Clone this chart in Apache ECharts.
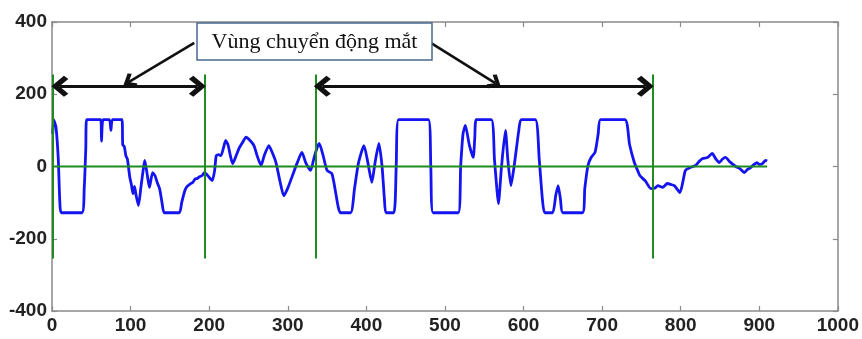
<!DOCTYPE html>
<html>
<head>
<meta charset="utf-8">
<script src="https://cdn.jsdelivr.net/npm/echarts@6/dist/echarts.min.js"></script>
<style>
html,body{margin:0;padding:0;background:#fff;}
#chart{width:862px;height:339px;}
</style>
</head>
<body>
<div id="chart"></div>
<script>
// ---- data ----
const xTicks = [0,100,200,300,400,500,600,700,800,900,1000];
const yTicks = [-400,-200,0,200,400];
const signalX = [1,2,5,8,10,12,38,41,43,44,62,63,65,73,75,77,89,90,92,94,96,99,101,103,105,107,110,113,116,118,121,124,128,131,134,137,140,143,162,165,169,172,176,179,182,185,188,191,194,197,200,204,207,209,212,215,218,221,224,227,230,234,238,242,247,252,257,261,266,270,276,280,285,290,295,300,306,312,318,323,329,333,337,340,345,350,356,360,364,367,380,385,390,397,402,407,411,416,420,423,425,435,438,441,479,482,485,517,520,523,526,531,536,538,540,559,563,566,568,572,577,580,584,588,594,597,615,620,624,627,637,641,644,647,650,675,678,682,686,691,695,698,729,735,741,745,748,755,762,767,771,777,783,788,792,799,803,806,812,819,824,828,834,840,845,849,853,857,863,870,875,881,885,889,893,897,900,904,908,910];
const signalY = [90,130,110,20,-100,-128,-128,-60,50,130,130,70,130,130,100,130,130,60,55,30,20,-30,-50,-75,-55,-80,-108,-60,-10,17,-20,-58,-17,-25,-45,-62,-100,-128,-128,-100,-67,-55,-48,-44,-35,-33,-28,-25,-17,-22,-30,-39,-10,30,33,30,50,72,60,30,8,28,50,65,81,72,58,30,3,30,58,40,11,-40,-81,-60,-25,10,39,10,-11,20,50,64,30,-11,-19,-60,-110,-128,-128,-60,10,58,10,-44,10,64,0,-90,-128,-128,0,130,130,0,-128,-128,0,90,114,60,25,80,130,130,20,-60,-103,0,100,20,-53,0,100,130,130,20,-90,-128,-128,-80,-53,-90,-128,-128,-60,3,25,39,90,130,130,60,11,-10,-25,-40,-61,-60,-53,-58,-47,-50,-53,-72,-40,-11,-3,3,15,22,25,36,20,11,20,25,12,0,-5,-17,-8,-3,5,11,6,8,17,15];
const zeroLineX = [0, 910];
const regionBounds = [1, 194, 335, 764];
const regionHalfHeight = 255;
const arrowY = 222;
const regions = [[1,194],[335,764]];
const annotationText = 'Vùng chuyển động mắt';
const pointerArrows = [[[181,342],[98,234]],[[482,342],[564,231]]];

const chevron = 'path://M10,0 L20,8.5 L17,11.5 L10,5.5 L3,11.5 L0,8.5 Z';
const arrowInset = 9;

const chart = echarts.init(document.getElementById('chart'), null, {renderer:'canvas'});
const labelStyle = {
  color:'#222', fontSize:19, fontWeight:'bold',
  fontFamily:'"Liberation Sans",Arial,sans-serif'
};
const axisLine = {show:true, onZero:false, lineStyle:{color:'#8a8a8a', width:1.5}};
const axisTick = {show:true, inside:true, length:5, lineStyle:{color:'#8a8a8a', width:1.2}};
const fmt = v => String(v);

const option = {
  animation:false,
  grid:{left:52, right:21, top:22, bottom:28, containLabel:false},
  xAxis:[
    {type:'value', min:0, max:1000, interval:100, position:'bottom',
     axisLine, axisTick, splitLine:{show:false},
     axisLabel:Object.assign({margin:5, formatter:fmt}, labelStyle)},
    {type:'value', min:0, max:1000, interval:100, position:'top',
     axisLine, axisTick, splitLine:{show:false}, axisLabel:{show:false}}
  ],
  yAxis:[
    {type:'value', min:-400, max:400, interval:200, position:'left',
     axisLine, axisTick, splitLine:{show:false},
     axisLabel:Object.assign({margin:5, formatter:fmt}, labelStyle)},
    {type:'value', min:-400, max:400, interval:200, position:'right',
     axisLine, axisTick, splitLine:{show:false}, axisLabel:{show:false}}
  ],
  series:[
    {type:'line', name:'signal', data:signalX.map((x,i)=>[x,signalY[i]]),
     showSymbol:false, smooth:0.2, lineStyle:{color:'#1414f0', width:2.8}, z:2},
    {type:'line', name:'zero', data:zeroLineX.map(x=>[x,0]),
     showSymbol:false, lineStyle:{color:'#1e8c1e', width:2}, z:3,
     markLine:{
       silent:true, symbol:['none','none'], label:{show:false},
       lineStyle:{color:'#1e8c1e', width:2, type:'solid'},
       data: regionBounds.map(x=>[{coord:[x,-regionHalfHeight]},{coord:[x,regionHalfHeight]}])
     }},
    {type:'line', name:'arrows', data:[], z:5,
     markLine:{
       silent:true, symbol:[chevron,chevron], symbolSize:[21,17], label:{show:false},
       lineStyle:{color:'#111', width:3.2, type:'solid'},
       data: regions.map(r=>[{coord:[r[0]+arrowInset,arrowY]},{coord:[r[1]-arrowInset,arrowY]}])
     }},
    {type:'line', name:'pointers', data:[], z:4,
     markLine:{
       silent:true, symbol:['none',chevron], symbolSize:[16,13], label:{show:false},
       lineStyle:{color:'#111', width:2.6, type:'solid'},
       data: pointerArrows.map(p=>[{coord:p[0]},{coord:p[1]}])
     }}
  ],
  graphic:[
    {type:'rect', z:100, shape:{x:197, y:23, width:235, height:37},
     style:{fill:'#fff', stroke:'#4a6a8f', lineWidth:1.5}},
    {type:'text', z:101, x:314.5, y:42,
     style:{text:annotationText, fill:'#111', align:'center', verticalAlign:'middle',
            font:'22px "Liberation Serif","Times New Roman",serif'}}
  ]
};
chart.setOption(option);
</script>
</body>
</html>
